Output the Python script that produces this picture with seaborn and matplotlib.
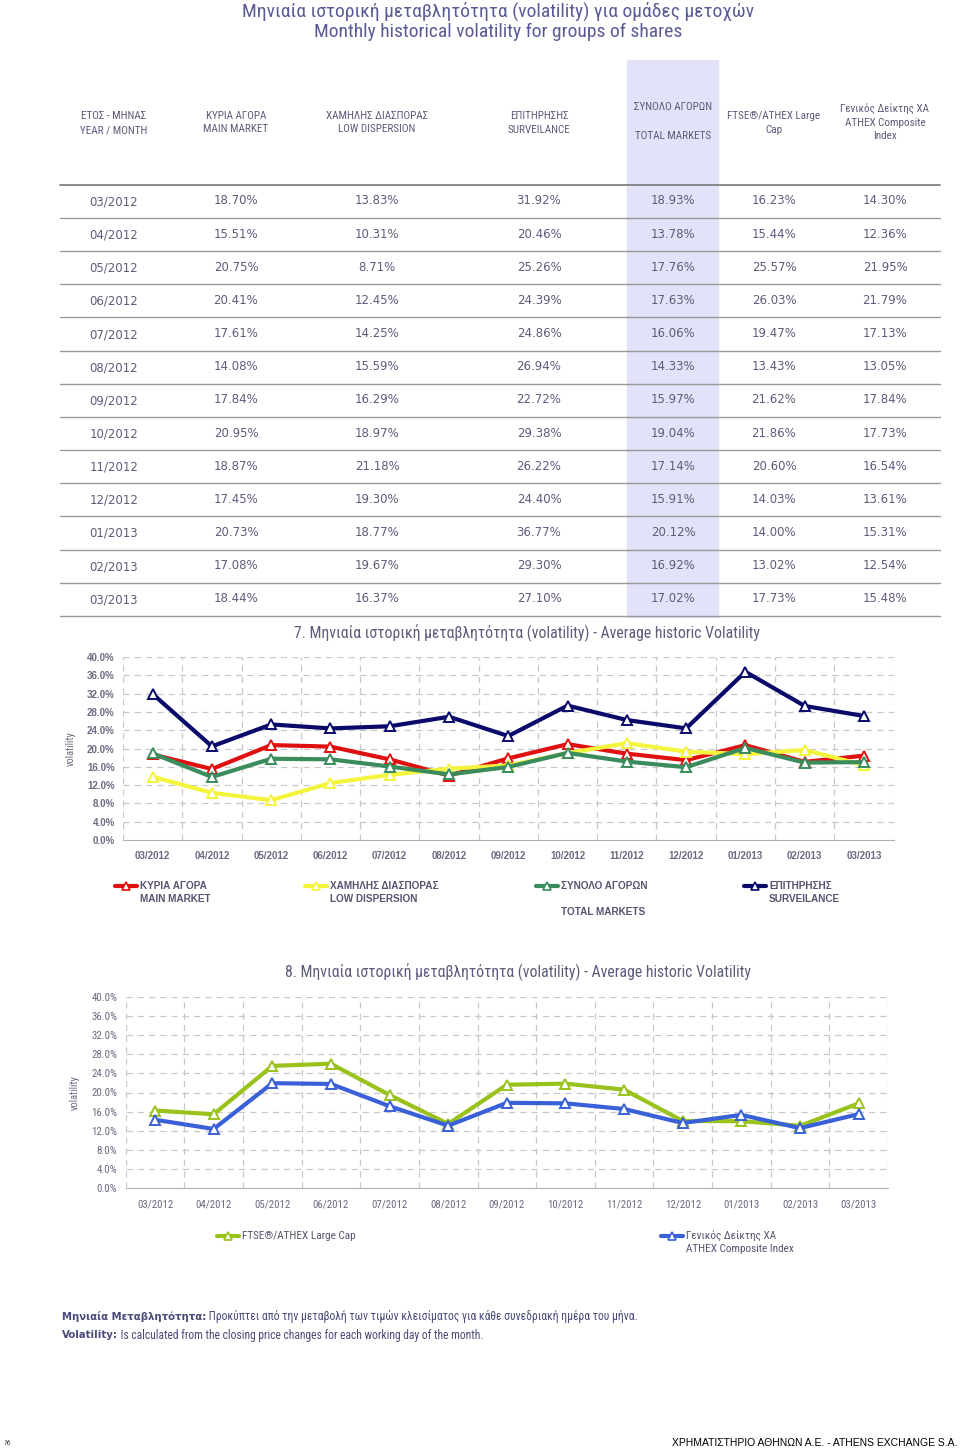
import numpy as np
import pandas as pd
import matplotlib
matplotlib.use('Agg')
import matplotlib.pyplot as plt
import seaborn as sns
from matplotlib.lines import Line2D
from matplotlib.patches import Rectangle
from matplotlib import font_manager

# 1. Data
months = ['03/2012', '04/2012', '05/2012', '06/2012', '07/2012', '08/2012', '09/2012',
          '10/2012', '11/2012', '12/2012', '01/2013', '02/2013', '03/2013']
main_market = [18.70, 15.51, 20.75, 20.41, 17.61, 14.08, 17.84, 20.95, 18.87, 17.45, 20.73, 17.08, 18.44]
low_dispersion = [13.83, 10.31, 8.71, 12.45, 14.25, 15.59, 16.29, 18.97, 21.18, 19.30, 18.77, 19.67, 16.37]
surveillance = [31.92, 20.46, 25.26, 24.39, 24.86, 26.94, 22.72, 29.38, 26.22, 24.40, 36.77, 29.30, 27.10]
total_markets = [18.93, 13.78, 17.76, 17.63, 16.06, 14.33, 15.97, 19.04, 17.14, 15.91, 20.12, 16.92, 17.02]
ftse_large_cap = [16.23, 15.44, 25.57, 26.03, 19.47, 13.43, 21.62, 21.86, 20.60, 14.03, 14.00, 13.02, 17.73]
composite = [14.30, 12.36, 21.95, 21.79, 17.13, 13.05, 17.84, 17.73, 16.54, 13.61, 15.31, 12.54, 15.48]

table_cols = [main_market, low_dispersion, surveillance, total_markets, ftse_large_cap, composite]
y_ticks = [0, 4, 8, 12, 16, 20, 24, 28, 32, 36, 40]

# 2. Fonts - prefer a narrow face if the machine has one
sns.set_style('white')
have = {f.name for f in font_manager.fontManager.ttflist}
narrow = [f for f in ['DejaVu Sans Condensed', 'Liberation Sans Narrow', 'Roboto Condensed'] if f in have]
body = narrow[:1] + ['DejaVu Sans']
plt.rcParams['font.family'] = body
arial_n = [f for f in ['Liberation Sans Narrow', 'Liberation Sans'] if f in have][:1] + ['DejaVu Sans']
wide = ['DejaVu Sans']

W, H = 960, 1450
fig = plt.figure(figsize=(9.6, 14.5), dpi=100)
TXT = '#5c5c7c'


def fx(x):
    return x / W


def fy(y):
    return 1 - y / H


def rect(l, t, r, b):
    return [l / W, 1 - b / H, (r - l) / W, (b - t) / H]


# 3. Title
fig.text(fx(498), fy(11), 'Μηνιαία ιστορική μεταβλητότητα (volatility) για ομάδες μετοχών',
         ha='center', va='center', fontsize=14, color='#5a5a96')
fig.text(fx(498), fy(32), 'Monthly historical volatility for groups of shares',
         ha='center', va='center', fontsize=14, color='#5a5a96')

# 4. Table
fig.add_artist(Rectangle((fx(627), fy(617)), fx(718) - fx(627), fy(60) - fy(617),
                         transform=fig.transFigure, color='#e2e2f8', zorder=0))
col_x = [114, 236, 377, 539, 673, 774, 885]
headers = [
    (['ΕΤΟΣ - ΜΗΝΑΣ', 'YEAR / MONTH'], [116, 130]),
    (['ΚΥΡΙΑ ΑΓΟΡΑ', 'MAIN MARKET'], [116, 129]),
    (['ΧΑΜΗΛΗΣ ΔΙΑΣΠΟΡΑΣ', 'LOW DISPERSION'], [116, 129]),
    (['ΕΠΙΤΗΡΗΣΗΣ', 'SURVEILANCE'], [116, 130]),
    (['ΣΥΝΟΛΟ ΑΓΟΡΩΝ', 'TOTAL MARKETS'], [107, 136]),
    (['FTSE®/ATHEX Large', 'Cap'], [116, 130]),
    (['Γενικός Δείκτης ΧΑ', 'ATHEX Composite', 'Index'], [109, 123, 136]),
]
for x, (lines, ys) in zip(col_x, headers):
    for s, y in zip(lines, ys):
        fig.text(fx(x), fy(y), s, ha='center', va='center', fontsize=8, color=TXT)

fig.add_artist(Line2D([fx(60), fx(940)], [fy(185), fy(185)], transform=fig.transFigure,
                      color='#777777', lw=1.2))
row_h = 33.15
for i, m in enumerate(months):
    yc = 202 + i * row_h
    fig.text(fx(col_x[0]), fy(yc), m, ha='center', va='center', fontsize=8.5, color=TXT,
             family=wide)
    for x, col in zip(col_x[1:], table_cols):
        fig.text(fx(x), fy(yc - 1), '%.2f%%' % col[i], ha='center', va='center',
                 fontsize=8.5, color=TXT, family=wide)
    yl = 218 + i * row_h
    fig.add_artist(Line2D([fx(60), fx(940)], [fy(yl), fy(yl)], transform=fig.transFigure,
                          color='#999999', lw=1.0))


# 5. Line charts
def chart(rect_px, series, colors, bold_ticks):
    ax = fig.add_axes(rect_px)
    x = np.arange(len(months))
    for vals, c in zip(series, colors):
        sns.lineplot(x=x, y=vals, ax=ax, color=c, lw=3, marker='^', markersize=7.5,
                     markerfacecolor='white', markeredgecolor=c, markeredgewidth=1.4,
                     sort=False, legend=False)
    ax.set_xlim(-0.5, len(months) - 0.5)
    ax.set_ylim(0, 40)
    ax.set_yticks(y_ticks)
    ax.set_yticklabels(['%.1f%%' % v for v in y_ticks])
    ax.set_xticks(x)
    ax.set_xticklabels(months)
    ax.set_xticks(np.arange(-0.5, len(months)), minor=True)
    ax.grid(False)
    for v in y_ticks[1:]:
        ax.axhline(v, color='#c8c8c8', lw=0.9, ls=(0, (5, 4)), zorder=0)
    for v in np.arange(-0.5, len(months)):
        ax.axvline(v, color='#c8c8c8', lw=0.9, ls=(0, (5, 4)), zorder=0)
    for s in ['top', 'right', 'left']:
        ax.spines[s].set_visible(False)
    ax.spines['bottom'].set_color('#b0b0b0')
    ax.tick_params(axis='x', which='major', length=0, pad=8)
    ax.tick_params(axis='x', which='minor', length=4, color='#b0b0b0', direction='out')
    ax.tick_params(axis='y', length=4, color='#b0b0b0', pad=2)
    wt = 'bold' if bold_ticks else 'normal'
    for lab in ax.get_xticklabels() + ax.get_yticklabels():
        lab.set_fontsize(7 if bold_ticks else 7.8)
        lab.set_color('#6a6a82')
        lab.set_fontweight(wt)
        if bold_ticks:
            lab.set_family(arial_n)
    ax.set_xlabel('')
    ax.set_ylabel('volatility', fontsize=7.5, color='#6a6a82', labelpad=8)
    return ax


chart(rect(123, 657, 893.6, 840),
      [main_market, low_dispersion, total_markets, surveillance],
      ['#e01010', '#f4f43c', '#3a8c5c', '#0a0a6a'], True)
fig.text(fx(527), fy(633), '7. Μηνιαία ιστορική μεταβλητότητα (volatility) - Average historic Volatility',
         ha='center', va='center', fontsize=11.3, color=TXT)

chart(rect(125.7, 997, 888, 1188), [ftse_large_cap, composite], ['#9ac21c', '#3a60d8'], False)
fig.text(fx(518), fy(972), '8. Μηνιαία ιστορική μεταβλητότητα (volatility) - Average historic Volatility',
         ha='center', va='center', fontsize=11.3, color=TXT)


def legend_item(x, y, color, lines, dys, bold, fam, size):
    fig.add_artist(Line2D([fx(x), fx(x + 22)], [fy(y), fy(y)], transform=fig.transFigure,
                          color=color, lw=3))
    fig.add_artist(Line2D([fx(x + 11)], [fy(y)], transform=fig.transFigure, marker='^',
                          markersize=6, markerfacecolor='white', markeredgecolor=color,
                          markeredgewidth=1.2, lw=0))
    for s, dy in zip(lines, dys):
        fig.text(fx(x + 25), fy(y + dy), s, ha='left', va='center', fontsize=size,
                 color='#555570', fontweight='bold' if bold else 'normal', family=fam)


legend_item(115, 886, '#e01010', ['ΚΥΡΙΑ ΑΓΟΡΑ', 'MAIN MARKET'], [0, 13], True, arial_n, 7.2)
legend_item(305, 886, '#f4f43c', ['ΧΑΜΗΛΗΣ ΔΙΑΣΠΟΡΑΣ', 'LOW DISPERSION'], [0, 13], True, arial_n, 7.2)
legend_item(536, 886, '#3a8c5c', ['ΣΥΝΟΛΟ ΑΓΟΡΩΝ', '', 'TOTAL MARKETS'], [0, 13, 26], True, arial_n, 7.2)
legend_item(744, 886, '#0a0a6a', ['ΕΠΙΤΗΡΗΣΗΣ', 'SURVEILANCE'], [0, 13], True, arial_n, 7.2)

legend_item(217, 1236, '#9ac21c', ['FTSE®/ATHEX Large Cap'], [0], False, body, 8.1)
legend_item(661, 1236, '#3a60d8', ['Γενικός Δείκτης ΧΑ', 'ATHEX Composite Index'], [0, 13], False, body, 8.1)

# 6. Footnotes
t1 = fig.text(fx(62), fy(1316), 'Μηνιαία Μεταβλητότητα:', ha='left', va='center', fontsize=7.3,
              color='#4a4a7a', fontweight='bold', family=wide)
fig.axes[0].annotate(' Προκύπτει από την μεταβολή των τιμών κλεισίματος για κάθε συνεδριακή ημέρα του μήνα.',
                     xy=(1, 0.5), xycoords=t1, ha='left', va='center', fontsize=8.35,
                     color='#4a4a7a', annotation_clip=False)
t2 = fig.text(fx(62), fy(1335), 'Volatility:', ha='left', va='center', fontsize=7.3,
              color='#4a4a7a', fontweight='bold', family=wide)
fig.axes[0].annotate(' Is calculated from the closing price changes for each working day of the month.',
                     xy=(1, 0.5), xycoords=t2, ha='left', va='center', fontsize=8.35,
                     color='#4a4a7a', annotation_clip=False)

fig.text(fx(3), fy(1443), '16', ha='left', va='center', fontsize=5.5, style='italic', color='#333333')
fig.text(fx(957), fy(1443), 'ΧΡΗΜΑΤΙΣΤΗΡΙΟ ΑΘΗΝΩΝ A.E. - ATHENS EXCHANGE S.A.', ha='right',
         va='center', fontsize=7.5, color='black', family=arial_n)

fig.savefig('out.png', dpi=100)
